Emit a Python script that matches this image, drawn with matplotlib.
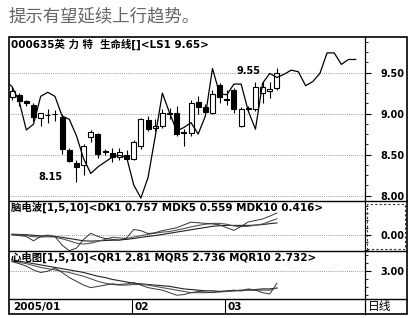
import numpy as np
import matplotlib
matplotlib.use('Agg')
import matplotlib.pyplot as plt
from matplotlib.patches import Rectangle
from matplotlib.lines import Line2D
from matplotlib.ticker import FixedLocator, MultipleLocator, FormatStrFormatter

plt.rcParams['font.family'] = ['DejaVu Sans', 'Noto Sans CJK SC']

# daily candles (index 0..37)
opens  = [9.20, 9.23, 9.15, 9.11, 8.95, 8.98, 8.99, 8.96, 8.55, 8.40,
          8.37, 8.71, 8.75, 8.53, 8.52, 8.47, 8.50, 8.45, 8.61, 8.92,
          8.82, 8.85, 9.00, 9.01, 8.77, 8.76, 9.14, 9.08, 9.01, 9.35,
          9.18, 9.29, 8.85, 9.07, 9.05, 9.25, 9.28, 9.31]
closes = [9.28, 9.15, 9.13, 8.96, 9.01, 8.98, 8.99, 8.57, 8.42, 8.35,
          8.61, 8.78, 8.51, 8.53, 8.47, 8.53, 8.45, 8.65, 8.93, 8.81,
          8.85, 9.01, 9.01, 8.75, 8.76, 9.13, 9.08, 9.02, 9.24, 9.20,
          9.16, 9.05, 9.05, 9.06, 9.32, 9.32, 9.30, 9.49]
highs  = [9.33, 9.25, 9.17, 9.13, 9.01, 9.05, 9.04, 9.00, 8.58, 8.43,
          8.63, 8.80, 8.76, 8.57, 8.58, 8.58, 8.55, 8.68, 8.95, 8.97,
          8.94, 9.05, 9.07, 9.09, 8.81, 9.17, 9.21, 9.12, 9.29, 9.37,
          9.29, 9.31, 9.08, 9.09, 9.38, 9.39, 9.39, 9.56]
lows   = [9.17, 9.09, 9.09, 8.91, 8.85, 8.89, 8.91, 8.51, 8.41, 8.16,
          8.25, 8.65, 8.46, 8.49, 8.41, 8.43, 8.43, 8.43, 8.57, 8.79,
          8.79, 8.83, 8.93, 8.73, 8.60, 8.73, 8.99, 8.99, 9.00, 9.13,
          9.11, 9.01, 8.84, 9.03, 9.03, 9.13, 9.19, 9.29]

# life line (index -1..48)
life = [9.40, 9.33, 9.15, 8.80, 8.87, 9.21, 9.26, 9.21, 8.97, 8.93,
        8.73, 8.45, 8.27, 8.35, 8.41, 8.47, 8.49, 8.47, 8.13, 7.97,
        8.22, 8.72, 9.25, 9.01, 8.79, 8.83, 8.89, 8.75, 8.97, 9.55,
        9.24, 9.23, 9.36, 9.36, 9.03, 8.81, 9.37, 9.49, 9.44, 9.48,
        9.53, 9.51, 9.34, 9.39, 9.49, 9.74, 9.74, 9.60, 9.66, 9.66]

dk1 = [0.0, -0.02, -0.05, -0.2, -0.05, 0.0, -0.05, -0.35, -0.54, -0.45,
       -0.15, 0.06, -0.05, -0.12, -0.15, -0.18, -0.1, 0.19, 0.15, 0.05,
       0.08, 0.15, 0.2, 0.25, 0.35, 0.44, 0.42, 0.4, 0.38, 0.35,
       0.25, 0.16, 0.3, 0.45, 0.5, 0.55, 0.65, 0.757]
mdk5 = [0.02, 0.0, -0.02, -0.06, -0.07, -0.06, -0.07, -0.13, -0.2, -0.28,
        -0.31, -0.28, -0.22, -0.15, -0.08, -0.1, -0.12, -0.07, -0.02, 0.02,
        0.06, 0.1, 0.12, 0.17, 0.22, 0.28, 0.33, 0.37, 0.4, 0.4,
        0.37, 0.31, 0.29, 0.3, 0.34, 0.38, 0.47, 0.559]
mdk10 = [0.03, 0.02, 0.01, -0.01, -0.03, -0.04, -0.05, -0.08, -0.12, -0.16,
         -0.2, -0.21, -0.2, -0.19, -0.18, -0.17, -0.15, -0.12, -0.08, -0.05,
         -0.02, 0.02, 0.06, 0.1, 0.14, 0.18, 0.22, 0.26, 0.3, 0.32,
         0.33, 0.33, 0.33, 0.33, 0.34, 0.36, 0.39, 0.416]

qr1 = [3.15, 3.12, 3.08, 3.02, 2.98, 3.0, 3.05, 2.98, 2.9, 2.84,
       2.78, 2.74, 2.76, 2.78, 2.8, 2.79, 2.8, 2.82, 2.78, 2.74,
       2.72, 2.7, 2.66, 2.62, 2.63, 2.66, 2.68, 2.67, 2.66, 2.68,
       2.69, 2.7, 2.69, 2.72, 2.7, 2.66, 2.64, 2.81]
mqr5 = [3.16, 3.14, 3.12, 3.09, 3.06, 3.04, 3.02, 3.0, 2.98, 2.95,
        2.92, 2.88, 2.84, 2.81, 2.79, 2.78, 2.78, 2.79, 2.79, 2.78,
        2.76, 2.74, 2.72, 2.7, 2.68, 2.66, 2.66, 2.66, 2.67, 2.67,
        2.68, 2.69, 2.69, 2.7, 2.7, 2.7, 2.7, 2.736]
mqr10 = [3.18, 3.16, 3.14, 3.12, 3.1, 3.08, 3.06, 3.04, 3.02, 3.0,
         2.98, 2.95, 2.92, 2.9, 2.87, 2.85, 2.83, 2.81, 2.8, 2.79,
         2.78, 2.77, 2.76, 2.74, 2.72, 2.71, 2.7, 2.69, 2.69, 2.68,
         2.68, 2.69, 2.7, 2.7, 2.71, 2.72, 2.72, 2.732]

month_labels = ['2005/01', '02', '03']
month_starts = [0, 17, 30]

W, H = 408, 318
fig = plt.figure(figsize=(W / 100, H / 100), dpi=100)


def box(x0, y0, x1, y1):
    return [x0 / W, 1 - y1 / H, (x1 - x0) / W, (y1 - y0) / H]


fig.text(8 / W, 1 - 16 / H, '提示有望延续上行趋势。', fontsize=12.5, color='#666666',
         va='center', ha='left', family=['Noto Sans CJK SC'])

xlim = (-0.42, 49.3)
ax1 = fig.add_axes(box(9, 37, 365, 201))
ax2 = fig.add_axes(box(9, 201, 365, 251))
ax3 = fig.add_axes(box(9, 251, 365, 299))
axd = fig.add_axes(box(9, 299, 365, 314))

for ax in (ax1, ax2, ax3, axd):
    ax.set_xlim(*xlim)
    for s in ('left', 'top', 'bottom'):
        ax.spines[s].set_visible(False)
    ax.spines['right'].set_linewidth(0.9)
    ax.set_xticks([])
    ax.yaxis.tick_right()
    ax.tick_params(axis='y', which='major', direction='out', length=4, width=0.8,
                   pad=7, labelsize=7)
    ax.tick_params(axis='y', which='minor', direction='out', length=2, width=0.6)

grid = dict(ls=(0, (1, 1.5)), color='#777777', lw=0.6, zorder=0)
head = dict(fontsize=7.5, fontweight='bold', va='top', ha='left')

# main panel
idx = np.arange(len(opens))
ax1.set_ylim(7.934, 9.934)
for v in [8.0, 8.5, 9.0, 9.5]:
    ax1.axhline(v, **grid)
ax1.vlines(idx, lows, highs, color='black', lw=0.8, zorder=2)
for i in idx:
    o, c = opens[i], closes[i]
    h = max(abs(c - o), 0.008)
    ax1.bar(i, h, bottom=min(o, c), width=0.7,
            facecolor='white' if c >= o else 'black',
            edgecolor='black', lw=0.8, zorder=3)
ax1.plot(np.arange(-1, len(life) - 1), life, color='black', lw=0.9, zorder=4)
ax1.yaxis.set_major_locator(FixedLocator([8.0, 8.5, 9.0, 9.5]))
ax1.yaxis.set_minor_locator(MultipleLocator(0.125))
ax1.yaxis.set_major_formatter(FormatStrFormatter('%.2f'))
ax1.text(0.006, 0.99, '000635英 力 特  生命线[]<LS1 9.65>', transform=ax1.transAxes, **head)
ax1.text(33.0, 9.52, '9.55', fontsize=7, fontweight='bold', va='center', ha='center')
ax1.text(5.3, 8.23, '8.15', fontsize=7, fontweight='bold', va='center', ha='center')

# 脑电波
ax2.set_ylim(-0.55, 1.17)
ax2.axhline(0, **grid)
ax2.plot(idx, mdk10, color='#222222', lw=0.8)
ax2.plot(idx, mdk5, color='#555555', lw=0.8)
ax2.plot(idx, dk1, color='#333333', lw=0.7)
ax2.yaxis.set_major_locator(FixedLocator([0.0]))
ax2.yaxis.set_minor_locator(MultipleLocator(0.25))
ax2.yaxis.set_major_formatter(FormatStrFormatter('%.2f'))
ax2.text(0.006, 0.98, '脑电波[1,5,10]<DK1 0.757 MDK5 0.559 MDK10 0.416>',
         transform=ax2.transAxes, **head)
fig.add_artist(Rectangle((367 / W, 1 - 249 / H), 38 / W, 45 / H, transform=fig.transFigure,
                         fill=False, ls=(0, (2, 2)), lw=0.8, color='#333333'))

# 心电图
ax3.set_ylim(2.56, 3.32)
ax3.axhline(3.0, **grid)
ax3.plot(idx, mqr10, color='#222222', lw=0.8)
ax3.plot(idx, mqr5, color='#555555', lw=0.8)
ax3.plot(idx, qr1, color='#333333', lw=0.7)
ax3.yaxis.set_major_locator(FixedLocator([3.0]))
ax3.yaxis.set_minor_locator(MultipleLocator(0.125))
ax3.yaxis.set_major_formatter(FormatStrFormatter('%.2f'))
ax3.text(0.006, 0.98, '心电图[1,5,10]<QR1 2.81 MQR5 2.736 MQR10 2.732>',
         transform=ax3.transAxes, **head)

# date strip
axd.set_ylim(0, 1)
axd.set_yticks([])
for k, (lab, m) in enumerate(zip(month_labels, month_starts)):
    if k > 0:
        axd.axvline(m - 0.2, color='black', lw=0.8)
    axd.text(m + 0.1, 0.45, lab, fontsize=7.5, fontweight='bold', va='center', ha='left')
fig.text(368 / W, 1 - 306.5 / H, '日线', fontsize=8.5, va='center', ha='left',
         family=['Noto Sans CJK SC'])

# frame
fig.add_artist(Rectangle((9 / W, 1 - 314 / H), 398 / W, 277 / H, transform=fig.transFigure,
                         fill=False, lw=1.2, color='black'))
for yy in (201, 251, 299):
    fig.add_artist(Line2D([9 / W, 407 / W], [1 - yy / H, 1 - yy / H],
                          transform=fig.transFigure, color='black', lw=1.0))

for ax in (ax1, ax2, ax3):
    for lab in ax.get_yticklabels():
        lab.set_fontweight('bold')

fig.savefig('out.png', dpi=100)
